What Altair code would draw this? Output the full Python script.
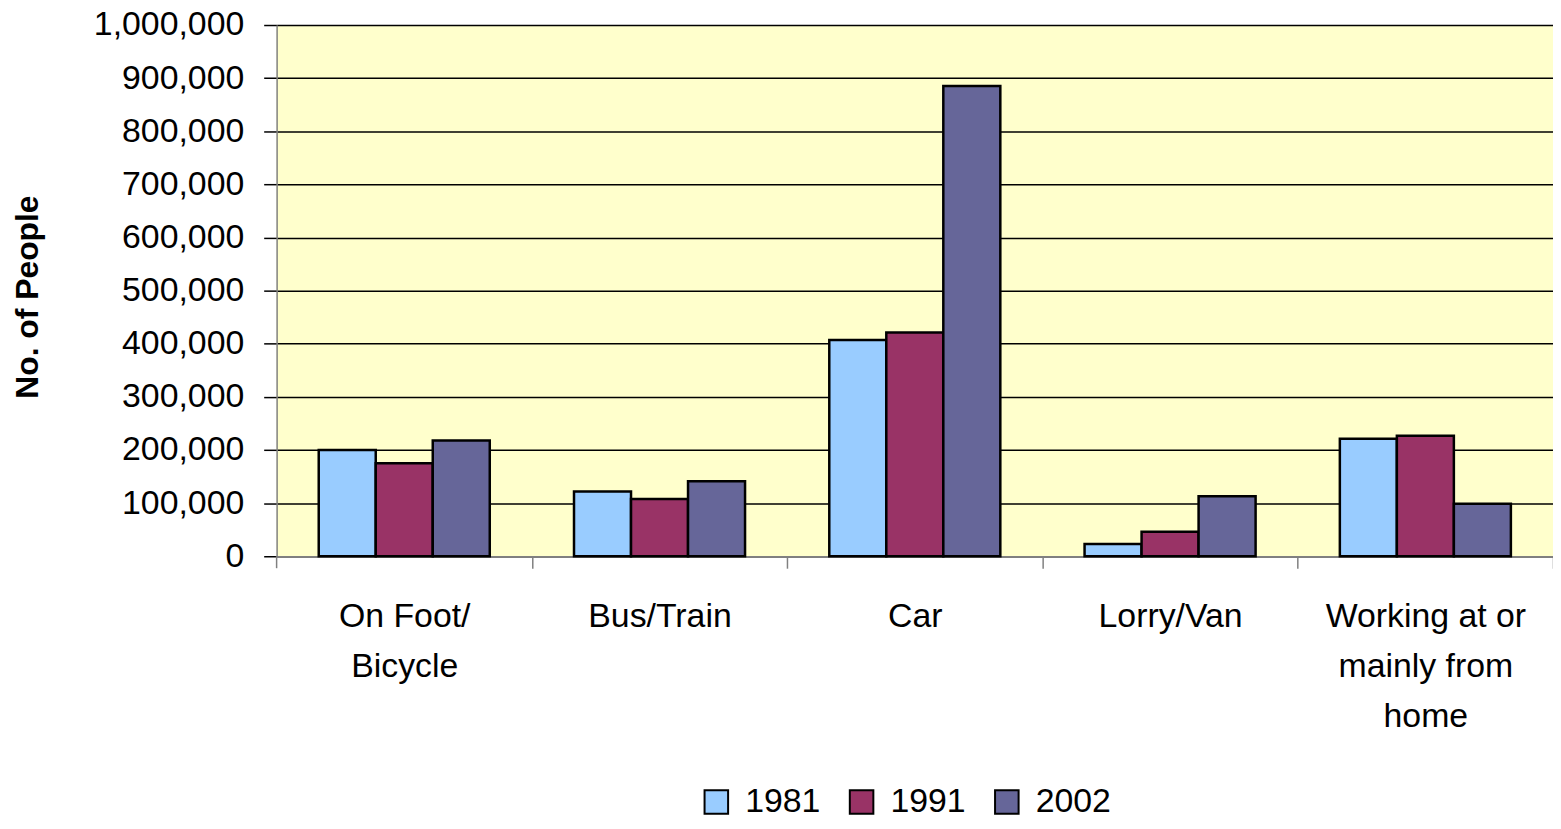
import altair as alt
import pandas as pd

categories = ["On Foot/ Bicycle", "Bus/Train", "Car", "Lorry/Van", "Working at or mainly from home"]
years = ["1981", "1991", "2002"]
v1981 = [200000, 122000, 407000, 23000, 221000]
v1991 = [175000, 108000, 421000, 46000, 227000]
v2002 = [218000, 141000, 885000, 113000, 99000]
colors = ["#99CCFF", "#993366", "#666699"]
y_ticks = list(range(0, 1000001, 100000))

rows = []
for yr, vals in zip(years, [v1981, v1991, v2002]):
    for c, v in zip(categories, vals):
        rows.append({"Mode": c, "Year": yr, "People": v})
df = pd.DataFrame(rows)

label_expr = (
    "datum.label == 'On Foot/ Bicycle' ? ['On Foot/', 'Bicycle'] : "
    "datum.label == 'Working at or mainly from home' ? ['Working at or', 'mainly from', 'home'] : datum.label"
)

W = 1283
H = 534
step = W / 5.0

bars = alt.Chart(df).mark_bar(stroke="black", strokeWidth=2.5, strokeJoin="miter").encode(
    x=alt.X("Mode:N", sort=categories,
            scale=alt.Scale(paddingInner=0.33, paddingOuter=0.165),
            axis=alt.Axis(title=None, labelAngle=0, labelExpr=label_expr,
                          labelFontSize=34, labelColor="black", labelLineHeight=50,
                          labelPadding=32, labelLimit=400, tickSize=12,
                          tickOffset=step / 2, labelOffset=-step / 2,
                          tickColor="#808080", tickWidth=1.5, domainColor="#808080",
                          domainWidth=1.5, grid=False, labelBaseline="top")),
    xOffset=alt.XOffset("Year:N", sort=years, scale=alt.Scale(paddingInner=0, paddingOuter=0)),
    y=alt.Y("People:Q", scale=alt.Scale(domain=[0, 1000000], nice=False),
            axis=alt.Axis(title="No. of People", values=y_ticks, format=",d",
                          labelFontSize=34, labelColor="black", labelPadding=20,
                          tickSize=13, tickColor="black", tickWidth=1.5,
                          domainColor="#808080", domainWidth=1.5,
                          grid=True, gridColor="black", gridWidth=1.5,
                          titleFontSize=32, titleFontWeight="bold", titleColor="black",
                          titleAngle=-90, titleX=-250, titleY=273,
                          titleAlign="center", titleBaseline="middle")),
    color=alt.Color("Year:N", sort=years,
                    scale=alt.Scale(domain=years, range=colors),
                    legend=alt.Legend(title=None, orient="none", direction="horizontal",
                                      legendX=425, legendY=764, padding=0,
                                      symbolType="square", symbolSize=560,
                                      symbolStrokeColor="black", symbolStrokeWidth=2,
                                      symbolOpacity=1,
                                      labelFontSize=34, labelColor="black",
                                      labelOffset=12, columnPadding=24)),
)

edge_tick = alt.Chart(pd.DataFrame({"t": [0]})).mark_rule(color="#808080", strokeWidth=1.5).encode(
    x=alt.value(0), y=alt.value(H), y2=alt.value(H + 12)
)

chart = alt.layer(bars, edge_tick).properties(
    width=W, height=H,
    background="white",
    padding={"left": 270, "top": 15, "right": 0, "bottom": 264},
    autosize=alt.AutoSizeParams(type="none"),
).configure(font="Liberation Sans").configure_view(fill="#FFFFCC", strokeWidth=0)

chart.save("out.html", embed_options={"renderer": "svg", "actions": False})
